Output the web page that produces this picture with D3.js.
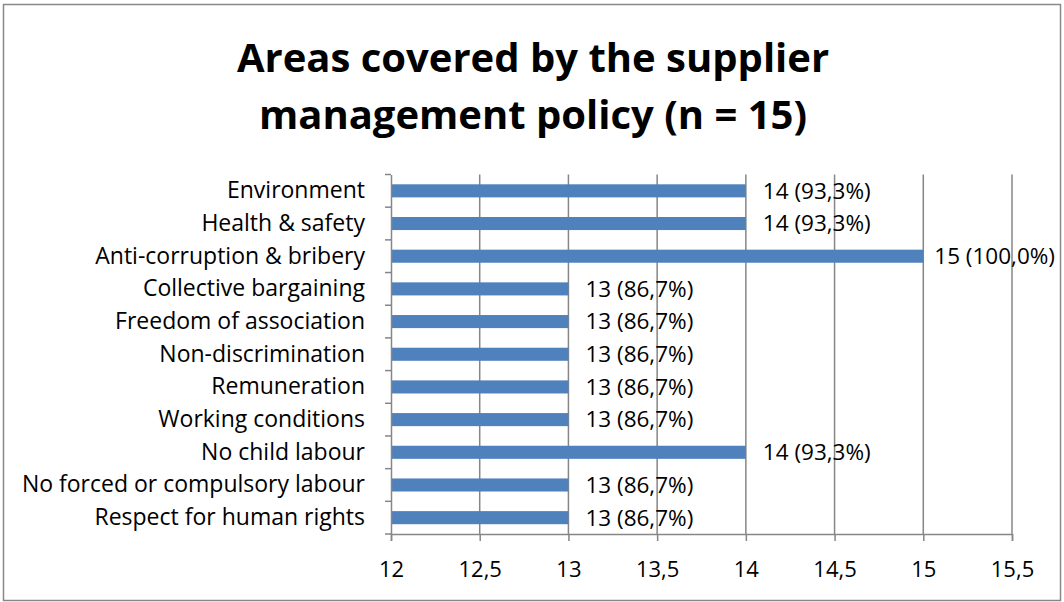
<!DOCTYPE html>
<html><head><meta charset="utf-8">
<script src="https://cdn.jsdelivr.net/npm/d3@7"></script>
<style>body{margin:0;background:#fff}svg{display:block}text{font-family:"Open Sans",sans-serif}</style>
</head><body>
<svg id="c" width="1064" height="602"></svg>
<script>
const categories=["Environment","Health & safety","Anti-corruption & bribery","Collective bargaining","Freedom of association","Non-discrimination","Remuneration","Working conditions","No child labour","No forced or compulsory labour","Respect for human rights"];
const values=[14,14,15,13,13,13,13,13,14,13,13];
const valueLabels=["14 (93,3%)","14 (93,3%)","15 (100,0%)","13 (86,7%)","13 (86,7%)","13 (86,7%)","13 (86,7%)","13 (86,7%)","14 (93,3%)","13 (86,7%)","13 (86,7%)"];
const tickValues=[12,12.5,13,13.5,14,14.5,15,15.5];
const titleLines=["Areas covered by the supplier","management policy (n = 15)"];

const FONT='"Open Sans",sans-serif';
const svg=d3.select("#c");
svg.append("rect").attr("x",3.5).attr("y",4.5).attr("width",1057).attr("height",596).attr("fill","#fff").attr("stroke","#888").attr("stroke-width",1.5);
const L=391,R=1012,T=174.5,B=534;
const x=d3.scaleLinear().domain([12,15.5]).range([L,R]);
const y=d3.scaleBand().domain(categories).range([T,B]).paddingInner(0.6).paddingOuter(0.3);
const yb=d3.scaleBand().domain(categories).range([T,B]);
const grid="#868686";
svg.append("g").selectAll("line").data(tickValues.slice(1)).join("line")
 .attr("x1",d=>x(d)).attr("x2",d=>x(d)).attr("y1",T).attr("y2",B).attr("stroke",grid).attr("stroke-width",1.5);
svg.append("g").selectAll("rect").data(categories).join("rect")
 .attr("x",x(12)).attr("y",(d)=>y(d)).attr("width",(d,i)=>x(values[i])-x(12)).attr("height",y.bandwidth()).attr("fill","#4F81BD");
const xa=svg.append("g").attr("transform",`translate(0,${B})`).call(d3.axisBottom(x).tickValues(tickValues).tickSize(7).tickPadding(20).tickFormat(d=>String(d).replace(".",",")));
xa.select(".domain").attr("stroke",grid).attr("stroke-width",1.5);
xa.selectAll(".tick line").attr("stroke",grid).attr("stroke-width",1.5);
xa.selectAll("text").attr("font-size",22).attr("fill","#000").style("font-family",FONT);
const ya=svg.append("g").attr("transform",`translate(${L},0)`).call(d3.axisLeft(yb).tickSize(0).tickPadding(26));
ya.select(".domain").attr("stroke",grid).attr("stroke-width",1.5);
ya.selectAll("text").attr("font-size",23).attr("fill","#000").style("font-family",FONT);
svg.append("g").selectAll("line").data(d3.range(categories.length+1)).join("line")
 .attr("x1",L-6).attr("x2",L).attr("y1",i=>T+i*yb.step()).attr("y2",i=>T+i*yb.step()).attr("stroke",grid).attr("stroke-width",1.5);
svg.append("g").selectAll("text").data(categories).join("text")
 .attr("y",d=>yb(d)+yb.bandwidth()/2).attr("dy","0.35em")
 .attr("font-size",22.5).text((d,i)=>valueLabels[i])
 .attr("x",function(d,i){const w=this.getComputedTextLength();return Math.min(x(values[i])+17,1055-w);});
svg.append("g").selectAll("text").data(titleLines).join("text")
 .attr("x",533).attr("y",(d,i)=>72+i*57).attr("text-anchor","middle").attr("font-size",40).attr("font-weight","bold").text(d=>d);
</script></body></html>
